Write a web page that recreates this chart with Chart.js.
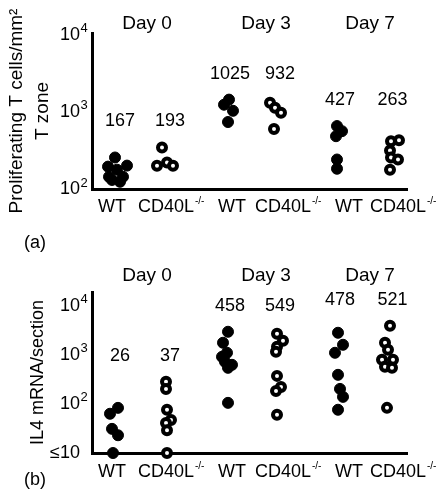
<!DOCTYPE html>
<html>
<head>
<meta charset="utf-8">
<script src="https://cdn.jsdelivr.net/npm/chart.js@4/dist/chart.umd.min.js"></script>
<style>
  body { margin: 0; background: #fff; }
  canvas { position: absolute; left: 0; }
</style>
</head>
<body>
<canvas id="chartA" width="441" height="262" style="top:0"></canvas>
<canvas id="chartB" width="441" height="245" style="top:250px"></canvas>
<script>
// categories
var groups = ['WT', 'CD40L', 'WT', 'CD40L', 'WT', 'CD40L'];
var days = ['Day 0', 'Day 3', 'Day 7'];
var groupPos = [0.5, 1.5, 2.7, 3.7, 4.9, 5.95];

// (a) proliferating T cells / mm2 T zone, one array per group
var aWT0 = [256, 195, 201, 178, 144, 144, 131, 124];
var aCD0 = [346, 200, 220, 200];
var aWT3 = [1439, 1236, 1031, 738];
var aCD3 = [1313, 1129, 970, 597];
var aWT7 = [654, 562, 483, 241, 183];
var aCD7 = [428, 415, 316, 256, 241, 178];
var aMeans = [167, 193, 1025, 932, 427, 263];
var aTicks = [100, 1000, 10000];
var aTickBase = ['10', '10', '10'];
var aTickExp = ['2', '3', '4'];

// (b) IL4 mRNA / section (10 = "≤10")
var bWT0 = [83, 63, 31, 23, 10];
var bCD0 = [281, 202, 76, 47, 41, 29, 10];
var bWT3 = [2944, 1758, 1099, 910, 719, 625, 543, 105];
var bCD3 = [2685, 1932, 1456, 1151, 372, 222, 184, 60];
var bWT7 = [2811, 1600, 1099, 391, 202, 139, 76];
var bCD7 = [3908, 1758, 1265, 791, 791, 569, 543, 83];
var bMeans = [26, 37, 458, 549, 478, 521];
var bTicks = [10, 100, 1000, 10000];
var bTickBase = ['≤10', '10', '10', '10'];
var bTickExp = ['', '2', '3', '4'];

// horizontal spread of the dots inside each group
var aJitter = [
  [-0.04, -0.18, 0.2, 0, -0.16, 0.12, -0.1, 0.06],
  [-0.1, -0.2, 0, 0.12],
  [0.04, -0.06, 0.12, 0.02],
  [-0.14, -0.04, 0.08, -0.06],
  [0, 0.1, -0.02, 0, 0],
  [0.19, 0.03, 0.01, 0.03, 0.17, 0.01]
];
var bJitter = [
  [0.02, -0.14, -0.1, 0.02, -0.08],
  [-0.02, -0.02, 0, 0.08, -0.02, 0, 0],
  [0.02, -0.08, 0, -0.1, -0.04, 0.1, 0.02, 0.02],
  [0, 0.12, 0, -0.02, 0, 0.08, -0.02, 0],
  [0.02, 0.12, -0.04, 0.02, 0.06, 0.12, 0.02],
  [0.01, -0.09, -0.03, -0.15, 0.07, -0.09, 0.05, -0.05]
];

// where the text sits along the x axis
var dayLabelPos = [1.1, 3.48, 5.56];
var xLabelPos = [0.4, 1.48, 2.8, 3.82, 5.14, 6.12];

var FONT = '"Liberation Sans", Arial, Helvetica, sans-serif';
Chart.defaults.font.family = FONT;
Chart.defaults.font.size = 18;
Chart.defaults.color = '#000';

var Y_PAD = 12;

var annotPlugin = {
  id: 'annot',
  afterDraw: function (chart, args, opts) {
    var ctx = chart.ctx;
    var xs = chart.scales.x, ys = chart.scales.y;
    var area = chart.chartArea;
    ctx.save();
    ctx.fillStyle = '#000';
    ctx.textBaseline = 'middle';
    ctx.textAlign = 'center';

    // day headers
    ctx.font = '19px ' + FONT;
    days.forEach(function (d, i) {
      ctx.fillText(d, xs.getPixelForValue(dayLabelPos[i]), area.top + opts.dayOffset);
    });

    // means, a little above the highest dot of each day
    ctx.font = '18px ' + FONT;
    for (var d = 0; d < 3; d++) {
      var top = Math.max.apply(null, opts.values[2 * d].concat(opts.values[2 * d + 1]));
      var py = ys.getPixelForValue(top) - 26;
      ctx.fillText(String(opts.means[2 * d]), xs.getPixelForValue(groupPos[2 * d]) + 3, py);
      ctx.fillText(String(opts.means[2 * d + 1]), xs.getPixelForValue(groupPos[2 * d + 1]) + 3, py);
    }

    // -/- superscript after each CD40L tick label
    var labelY = area.bottom + opts.xPad + 10.8;
    var w = ctx.measureText('CD40L').width;
    ctx.font = '10px ' + FONT;
    ctx.textAlign = 'left';
    for (var i = 1; i < groups.length; i += 2) {
      ctx.fillText('-/-', xs.getPixelForValue(xLabelPos[i]) + w / 2 + 1, labelY - 6);
    }

    // exponents on the y tick labels
    ctx.font = '13px ' + FONT;
    opts.tickExp.forEach(function (e, i) {
      if (e) ctx.fillText(e, area.left - Y_PAD + 0.5, ys.getPixelForValue(opts.ticks[i]) - 6);
    });

    // panel letter
    ctx.font = '18px ' + FONT;
    ctx.fillText(opts.letter, 24, opts.letterY);
    ctx.restore();
  }
};

function makeChart(id, values, jitter, means, yMin, yMax, ticks, tickBase, tickExp, title, titleSize, pad, titlePad, dayOffset, xPad, letter, letterY) {
  var datasets = values.map(function (vals, g) {
    var wt = g % 2 === 0;
    return {
      label: groups[g] + ' ' + days[Math.floor(g / 2)],
      data: vals.map(function (v, k) { return { x: groupPos[g] + jitter[g][k], y: v }; }),
      pointRadius: wt ? 5.5 : 4,
      borderWidth: wt ? 1 : 4,
      pointBackgroundColor: wt ? '#000' : '#fff',
      pointBorderColor: '#000',
      clip: false
    };
  });

  return new Chart(document.getElementById(id), {
    type: 'scatter',
    data: { datasets: datasets },
    plugins: [annotPlugin],
    options: {
      responsive: false,
      animation: false,
      layout: { padding: pad },
      plugins: {
        legend: { display: false },
        tooltip: { enabled: false },
        annot: {
          values: values, means: means, ticks: ticks, tickExp: tickExp,
          dayOffset: dayOffset, xPad: xPad, letter: letter, letterY: letterY
        }
      },
      scales: {
        x: {
          type: 'linear',
          min: 0,
          max: 6.3,
          grid: { display: false, drawTicks: false },
          border: { color: '#000', width: 3 },
          afterBuildTicks: function (s) {
            s.ticks = xLabelPos.map(function (v) { return { value: v }; });
          },
          afterFit: function (s) { s.height = 40; },
          ticks: {
            autoSkip: false,
            maxRotation: 0,
            padding: xPad,
            callback: function (v, i) { return groups[i]; }
          }
        },
        y: {
          type: 'logarithmic',
          min: yMin,
          max: yMax,
          grid: { display: false, drawTicks: false },
          border: { color: '#000', width: 3 },
          afterBuildTicks: function (s) {
            s.ticks = ticks.map(function (v) { return { value: v }; });
          },
          afterFit: function (s) { s.width = 92; },
          ticks: {
            autoSkip: false,
            padding: Y_PAD,
            callback: function (v, i) { return tickBase[i]; }
          },
          title: {
            display: true,
            text: title,
            font: { size: titleSize, lineHeight: 26 / titleSize },
            padding: { top: titlePad, bottom: 0 }
          }
        }
      }
    }
  });
}

makeChart('chartA', [aWT0, aCD0, aWT3, aCD3, aWT7, aCD7], aJitter, aMeans,
  100, 10500, aTicks, aTickBase, aTickExp, ['Proliferating T cells/mm²', 'T zone'], 19,
  { top: 33, right: 34, bottom: 33, left: 0 }, 4, -9, 7, '(a)', 243);

makeChart('chartB', [bWT0, bCD0, bWT3, bCD3, bWT7, bCD7], bJitter, bMeans,
  10, 19000, bTicks, bTickBase, bTickExp, 'IL4 mRNA/section', 18,
  { top: 42, right: 34, bottom: 2, left: 0 }, 25, -16, 8, '(b)', 230);
</script>
</body>
</html>
